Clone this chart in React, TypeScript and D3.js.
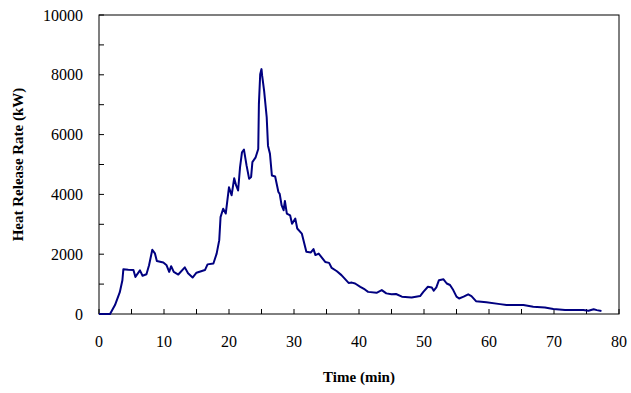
import React from "react";
import * as d3 from "d3";

// Heat release rate record: time (min) and HRR (kW)
const timeMin = [
  0, 1.7, 2.46, 3.2, 3.6, 3.75, 4.5, 5.3, 5.6, 6.3, 6.7, 7.3, 7.7, 8.2, 8.6, 8.9, 9.9, 10.4, 10.8, 11.1, 11.5,
  12.2, 13.2, 13.7, 14.4, 15.0, 16.3, 16.7, 17.6, 18.1, 18.5, 18.7, 19.1, 19.5, 20.0, 20.4, 20.8, 21.1, 21.4,
  21.7, 22.0, 22.3, 22.7, 23.1, 23.4, 23.6, 24.1, 24.5, 24.6, 24.8, 25.0, 25.1, 25.4, 25.8, 26.0, 26.3, 26.6,
  27.1, 27.6, 27.8, 28.1, 28.4, 28.6, 28.9, 29.4, 29.7, 30.2, 30.5, 31.2, 31.9, 32.6, 33.0, 33.3, 33.8, 34.8,
  35.4, 35.8, 36.6, 37.3, 38.4, 38.9, 39.4, 40.2, 40.9, 41.4, 42.7, 43.5, 44.2, 45.0, 45.7, 46.6, 48.1, 49.4,
  49.9, 50.6, 51.2, 51.5, 51.9, 52.3, 53.0, 53.5, 54.0, 54.5, 55.0, 55.4, 56.1, 56.8, 57.3, 58.0, 59.6, 61.7,
  62.7, 65.3, 66.8, 68.6, 69.9, 71.7, 74.5, 75.3, 76.1, 76.6, 77.3,
];
const hrrKW = [
  0, 0, 300, 730, 1130, 1500, 1480, 1470, 1240, 1460, 1280, 1330, 1630, 2150, 2030, 1770, 1720, 1630, 1410, 1600,
  1410, 1320, 1560, 1360, 1220, 1380, 1470, 1660, 1690, 2020, 2470, 3240, 3520, 3360, 4240, 3970, 4540, 4300, 4130,
  4910, 5410, 5500, 4970, 4520, 4580, 5080, 5240, 5520, 7020, 8020, 8190, 7970, 7470, 6580, 5630, 5360, 4630,
  4600, 4080, 4020, 3630, 3470, 3780, 3360, 3300, 3020, 3190, 2860, 2690, 2080, 2060, 2170, 1970, 2020, 1740,
  1710, 1540, 1430, 1300, 1040, 1050, 1020, 910, 820, 740, 710, 800, 690, 660, 670, 580, 550, 600,
  740, 910, 890, 780, 890, 1130, 1160, 1020, 970, 800, 580, 520, 580, 660, 600, 430, 390, 330,
  300, 300, 240, 220, 170, 130, 130, 110, 160, 130, 100,
];

const xTicks = [0, 10, 20, 30, 40, 50, 60, 70, 80];
const xMinorTicks = [5, 15, 25, 35, 45, 55, 65, 75];
const yTicks = [0, 2000, 4000, 6000, 8000, 10000];
const yMinorTicks = [1000, 3000, 5000, 7000, 9000];

const W = 631;
const H = 393;
const left = 99;
const right = 619;
const top = 15;
const bottom = 314;

export default function App() {
  const x = d3.scaleLinear().domain([0, 80]).range([left, right]);
  const y = d3.scaleLinear().domain([0, 10000]).range([bottom, top]);
  const pts: [number, number][] = timeMin.map((t, i) => [t, hrrKW[i]]);
  const line = d3
    .line<[number, number]>()
    .x((d) => x(d[0]))
    .y((d) => y(d[1]));
  const font = "'Liberation Serif', 'Times New Roman', serif";
  const tickLen = 5;

  return (
    <svg
      width={W}
      height={H}
      style={{ position: "absolute", left: 0, top: 0, background: "#fff" }}
      fontFamily={font}
    >
      <rect x={left} y={top} width={right - left} height={bottom - top} fill="none" stroke="#000" strokeWidth={1} />
      {[...xTicks, ...xMinorTicks].map((t) => (
        <line key={"xt" + t} x1={x(t)} x2={x(t)} y1={bottom} y2={bottom - tickLen} stroke="#000" />
      ))}
      {[...yTicks, ...yMinorTicks].map((v) => (
        <line key={"yt" + v} x1={left} x2={left + tickLen} y1={y(v)} y2={y(v)} stroke="#000" />
      ))}
      {xTicks.map((t) => (
        <text key={"xl" + t} x={x(t)} y={347} textAnchor="middle" fontSize={16}>
          {t}
        </text>
      ))}
      {yTicks.map((v) => (
        <text key={"yl" + v} x={83} y={y(v) + 5.5} textAnchor="end" fontSize={16}>
          {v}
        </text>
      ))}
      <path d={line(pts) ?? ""} fill="none" stroke="#000080" strokeWidth={2} strokeLinejoin="round" />
      <text x={(left + right) / 2} y={382} textAnchor="middle" fontSize={15} fontWeight="bold">
        Time (min)
      </text>
      <text
        transform={`translate(23, ${(top + bottom) / 2}) rotate(-90)`}
        textAnchor="middle"
        fontSize={15}
        fontWeight="bold"
      >
        Heat Release Rate (kW)
      </text>
    </svg>
  );
}
